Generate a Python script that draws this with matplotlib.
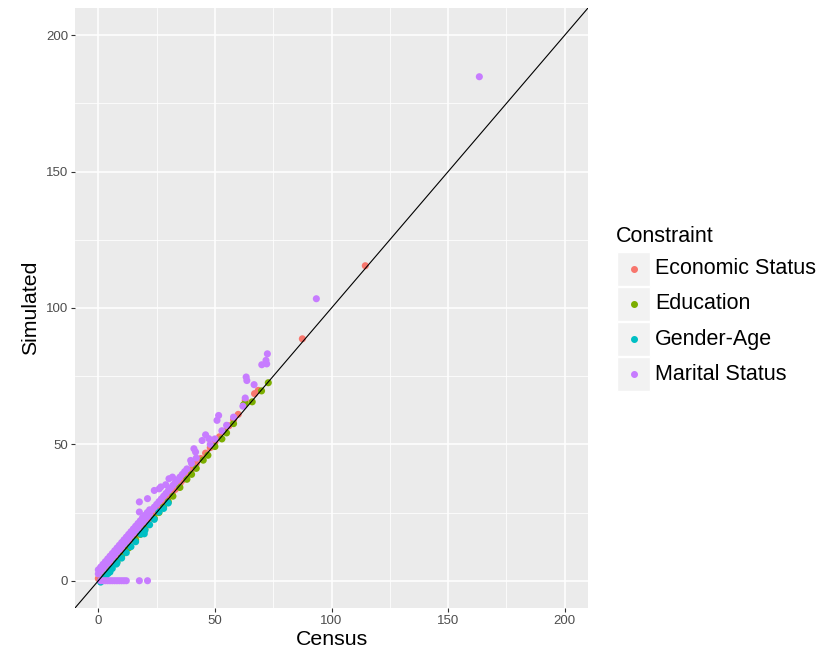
import matplotlib
matplotlib.use("Agg")
import matplotlib.pyplot as plt
from matplotlib.patches import Rectangle

plt.rcParams['font.family'] = ['Liberation Sans', 'DejaVu Sans']

categories = ["Economic Status", "Education", "Gender-Age", "Marital Status"]
colors = ["#F8766D", "#7CAE00", "#00BFC4", "#C77CFF"]

econ_census = [0, 1, 2, 3, 4, 5, 6, 7, 8, 9, 10, 11, 12, 13, 14, 15, 16, 17, 18, 19, 20,
               21, 22, 23, 24, 25, 26, 27, 28, 29, 30, 31, 32, 34, 36, 38, 40, 42, 44, 46,
               48, 50, 52, 54, 56, 58, 60, 63, 67, 68.6, 87.5, 114.5,
               0.5, 1.5, 2.5, 3.5, 4.5, 5.5, 6.5, 7.5, 8.5, 9.5, 10.5, 11.5, 12.5, 13.5, 14.5,
               15.5, 16.5, 17.5, 18.5, 19.5, 20.5, 22.5, 24.5, 26.5, 28.5, 30.5, 33, 35, 37]
econ_sim = [0.8, 1.8, 2.8, 3.8, 4.8, 5.8, 6.8, 7.8, 8.8, 9.8, 10.8, 11.8, 12.8, 13.8, 14.8,
            15.8, 16.8, 17.8, 18.8, 19.8, 20.8, 21.8, 22.8, 23.8, 24.8, 25.8, 26.8, 27.8,
            28.8, 29.8, 30.8, 31.8, 32.8, 34.8, 36.8, 38.8, 40.8, 42.8, 44.8, 46.8, 48.8,
            50.8, 52.8, 54.8, 56.8, 59, 61, 66.1, 68.6, 69.8, 88.7, 115.5,
            1.0, 2.0, 3.0, 4.0, 5.0, 6.0, 7.0, 8.0, 9.0, 10.0, 11.0, 12.0, 13.0, 14.0, 15.0,
            16.0, 17.0, 18.0, 19.0, 20.0, 21.0, 23.0, 25.0, 27.0, 29.0, 31.0, 33.5, 35.5, 37.5]

edu_census = [1, 3, 5, 8, 10, 13, 16, 20, 24, 28, 32, 35, 38, 42, 45, 50, 55, 58, 62.3,
              63, 66, 70, 72.9, 18, 26, 30, 40, 47, 53]
edu_sim = [0, 2, 4, 7, 9, 12, 15, 19, 23, 27, 31, 34.2, 37.2, 41.2,
           44.2, 49.2, 54.2, 57.6, 64.5, 65, 65.6, 69.6, 72.6, 17, 25, 29, 39, 46, 52]

gen_census = [1, 2, 3, 4.1, 5, 6, 7.7, 8, 10, 12, 14, 16, 18.3, 19.7, 20, 22, 24, 26, 28, 30]
gen_sim = [-0.5, 0.5, 1.5, 2.6, 3.2, 4.5, 6.1, 6.5, 8.3, 10.3, 12.5, 14.3, 17.1, 17.2,
           18.5, 20.5, 22.5, 25.2, 26.5, 28.5]

mar_census = [1, 2, 3, 4, 5, 6, 7, 8, 9, 10, 11, 12, 17.6, 21.1,
              0, 0, 1, 1, 2, 2, 3, 3, 4, 4, 5, 5, 6, 6, 7, 7, 8, 8, 9, 9, 10, 10, 11, 11,
              12, 12, 13, 13, 14, 14, 15, 15, 16, 16, 17, 17, 18, 18, 19, 19, 20, 20,
              21, 21, 22, 22, 23, 24, 25, 26, 27, 28, 17.6, 17.6, 21.1, 19,
              24, 26.1, 26.8, 28.9, 30.3, 31.8, 29, 30, 31, 32, 33, 34, 35, 36, 37, 38,
              39.6, 41, 41.7, 40, 42, 44.5, 46, 47.4, 48, 50, 50.9, 51.6, 53, 55, 58,
              62, 63, 63.4, 63.7, 66.8, 70.1, 71.9, 72.2, 72.5, 93.5, 163.4,
              0.5, 1.5, 2.5, 3.5, 4.5, 5.5, 6.5, 7.5, 8.5, 9.5, 10.5, 11.5, 12.5, 13.5,
              14.5, 15.5, 16.5, 18.5]
mar_sim = [0, 0, 0, 0, 0, 0, 0, 0, 0, 0, 0, 0, 0, 0,
           2.5, 4, 3.5, 5, 4.5, 6, 5.5, 7, 6.5, 8, 7.5, 9, 8.5, 10, 9.5, 11, 10.5, 12,
           11.5, 13, 12.5, 14, 13.5, 15, 14.5, 16, 15.5, 17, 16.5, 18, 17.5, 19, 18.5,
           20, 19.5, 21, 20.5, 22, 21.5, 23, 22.5, 24, 23.5, 25, 24.5, 26, 26, 27, 28, 29,
           30, 31, 28.9, 25.2, 30.1, 23,
           33.1, 33.7, 34.4, 35.2, 37.4, 38, 32, 33, 34, 35, 36, 37, 38, 39, 40, 41,
           44.1, 48.4, 47.2, 43, 45, 51.4, 53.5, 52.1, 50, 52, 58.8, 60.6, 55, 57, 60,
           64, 67, 74.7, 73.4, 71.9, 79.2, 80.8, 79.5, 83.2, 103.4, 184.8,
           3.5, 4.5, 5.5, 6.5, 7.5, 8.5, 9.5, 10.5, 11.5, 12.5, 13.5, 14.5, 15.5, 16.5,
           17.5, 18.5, 19.5, 21.5]

series = [(econ_census, econ_sim), (edu_census, edu_sim),
          (gen_census, gen_sim), (mar_census, mar_sim)]

xticks = [0, 50, 100, 150, 200]
yticks = [0, 50, 100, 150, 200]

fig = plt.figure(figsize=(8.22, 6.64), dpi=100)
ax = fig.add_axes([75/822, 1-608/664, (588-75)/822, (608-8)/664])
ax.set_facecolor("#EBEBEB")
for s in ax.spines.values():
    s.set_visible(False)

ax.set_xlim(-10, 210)
ax.set_ylim(-10, 210)
ax.set_xticks(xticks)
ax.set_yticks(yticks)
ax.set_xticks([25, 75, 125, 175], minor=True)
ax.set_yticks([25, 75, 125, 175], minor=True)
ax.grid(which="major", color="white", linewidth=1.1)
ax.grid(which="minor", color="white", linewidth=0.55)
ax.set_axisbelow(True)
ax.tick_params(which="major", length=3, width=0.8, color="#333333",
               labelsize=9.5, labelcolor="#4D4D4D", pad=2)
ax.tick_params(which="minor", length=0)

for (xs, ys), c in zip(series, colors):
    ax.scatter(xs, ys, s=26, color=c, edgecolors="none", zorder=3)

ax.axline((0, 0), slope=1, color="black", linewidth=0.8, zorder=4)

ax.set_xlabel("Census", fontsize=15.3, color="black", labelpad=2)
ax.set_ylabel("Simulated", fontsize=15.3, color="black", labelpad=4)

# legend (ggplot style)
W, H = 822, 664
fig.text(616/W, 1-237/H, "Constraint", fontsize=15.5, va="center", ha="left")
for i, (lab, c) in enumerate(zip(categories, colors)):
    top = 252 + 35*i
    fig.add_artist(Rectangle((617/W, 1-(top+34)/H), 33/W, 34/H,
                             transform=fig.transFigure, facecolor="#F2F2F2",
                             edgecolor="white", linewidth=1))
    fig.add_artist(plt.Line2D([634/W], [1-(top+17)/H], marker="o", markersize=4,
                              color=c, linestyle="none", transform=fig.transFigure))
    fig.text(655/W, 1-(top+17)/H, lab, fontsize=15.5, va="center", ha="left")

fig.savefig("out.png", dpi=100)
